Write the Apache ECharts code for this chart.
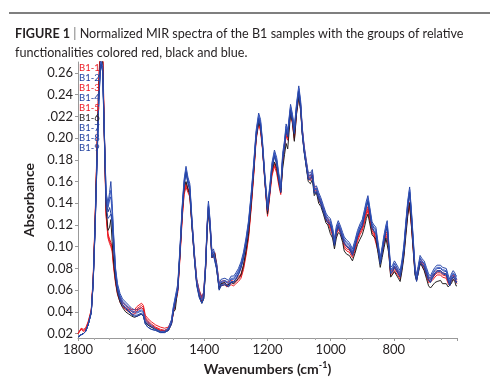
<!DOCTYPE html>
<html>
<head>
<meta charset="utf-8">
<script src="https://cdn.jsdelivr.net/npm/echarts@6/dist/echarts.min.js"></script>
<style>html,body{margin:0;padding:0;background:#fff}#c{width:500px;height:383px}</style>
</head>
<body>
<div id="c"></div>
<script>
// Wavenumbers (cm-1)
const wavenumbers = [
1800,1790,1783,1776,1768,1758,1752,1746,1740,1734,
1728,1722,1716,1711,1705,1700,1696,1692,1687,1681,
1675,1667,1659,1649,1639,1629,1621,1613,1607,1599,
1593,1587,1579,1568,1554,1539,1526,1514,1504,1498,
1492,1484,1477,1470,1464,1458,1452,1446,1439,1431,
1424,1416,1408,1402,1396,1391,1387,1382,1376,1371,
1367,1361,1353,1347,1341,1335,1329,1323,1315,1307,
1300,1292,1284,1276,1268,1260,1252,1244,1236,1228,
1222,1216,1208,1200,1193,1186,1178,1171,1164,1158,
1152,1146,1141,1136,1127,1121,1115,1108,1101,1095,
1090,1084,1078,1071,1064,1058,1052,1045,1038,1031,
1023,1015,1009,1001,994,988,982,976,969,962,
957,949,941,931,923,915,907,900,893,887,
882,876,869,863,857,850,843,837,831,825,
821,816,810,804,798,792,786,780,774,768,
762,756,750,744,738,733,728,723,717,711,
704,697,690,684,678,670,663,658,652,646,
640,634,628,623,618,612,607,603,600];

const b1_1 = [
.020,.025,.024,.025,.031,.042,.072,.125,.190,.255,
.295,.285,.200,.132,.112,.107,.104,.100,.084,.070,
.060,.053,.049,.046,.044,.042,.042,.045,.044,.048,
.046,.037,.034,.031,.028,.026,.025,.026,.032,.042,
.042,.062,.094,.130,.152,.159,.154,.150,.122,.092,
.070,.060,.054,.058,.084,.120,.137,.122,.094,.094,
.095,.084,.066,.068,.068,.069,.067,.066,.069,.068,
.070,.072,.075,.083,.096,.112,.138,.168,.202,.217,
.210,.194,.162,.132,.150,.169,.178,.172,.160,.152,
.180,.195,.206,.202,.227,.217,.202,.227,.242,.230,
.209,.192,.180,.166,.165,.169,.154,.154,.147,.143,
.136,.128,.126,.120,.114,.105,.115,.120,.116,.110,
.103,.100,.099,.094,.100,.109,.115,.119,.126,.133,
.137,.128,.117,.114,.113,.100,.089,.097,.106,.112,
.114,.099,.077,.079,.082,.083,.077,.074,.084,.097,
.117,.134,.141,.122,.099,.080,.073,.080,.089,.087,
.083,.077,.071,.070,.073,.076,.078,.077,.078,.076,
.076,.075,.070,.068,.072,.074,.073,.071,.070];

const b1_2 = [
.017,.019,.020,.022,.028,.040,.068,.118,.180,.240,
.275,.268,.200,.150,.140,.150,.160,.140,.110,.080,
.066,.057,.052,.049,.046,.043,.042,.042,.041,.044,
.042,.034,.031,.028,.025,.023,.023,.025,.033,.045,
.046,.066,.100,.138,.162,.174,.164,.158,.125,.093,
.070,.059,.053,.058,.086,.122,.142,.125,.096,.098,
.098,.085,.066,.070,.071,.071,.070,.069,.073,.073,
.076,.080,.086,.095,.108,.124,.148,.176,.207,.223,
.217,.198,.165,.139,.155,.177,.189,.182,.167,.156,
.186,.198,.213,.207,.231,.222,.210,.232,.248,.234,
.210,.193,.181,.168,.168,.171,.155,.156,.150,.145,
.138,.131,.128,.126,.118,.107,.119,.124,.119,.113,
.109,.106,.104,.098,.106,.115,.121,.125,.134,.142,
.147,.136,.123,.120,.118,.104,.090,.100,.111,.120,
.124,.104,.081,.083,.087,.087,.081,.078,.088,.102,
.123,.142,.155,.132,.105,.082,.074,.082,.092,.089,
.087,.081,.075,.073,.077,.081,.083,.082,.083,.081,
.081,.080,.074,.070,.075,.078,.076,.073,.073];

const b1_3 = [
.020,.0245,.023,.024,.030,.041,.070,.122,.187,.252,
.290,.280,.196,.130,.110,.105,.102,.098,.082,.068,
.058,.051,.047,.044,.042,.040,.040,.043,.042,.046,
.044,.035,.032,.029,.026,.024,.023,.024,.030,.040,
.040,.060,.092,.128,.150,.157,.152,.148,.120,.090,
.068,.058,.052,.056,.082,.118,.135,.120,.092,.092,
.093,.082,.064,.066,.066,.067,.065,.064,.067,.066,
.068,.070,.073,.081,.094,.110,.136,.166,.200,.215,
.208,.192,.160,.130,.148,.167,.176,.170,.158,.150,
.178,.193,.204,.200,.225,.215,.200,.225,.240,.228,
.207,.190,.178,.164,.163,.167,.152,.152,.145,.141,
.134,.126,.124,.118,.112,.103,.113,.118,.114,.108,
.101,.098,.097,.092,.098,.107,.113,.117,.124,.131,
.135,.126,.115,.112,.111,.098,.087,.095,.104,.110,
.112,.097,.075,.077,.080,.081,.075,.072,.082,.095,
.115,.132,.139,.120,.097,.078,.071,.078,.087,.085,
.081,.075,.069,.068,.071,.074,.076,.075,.076,.074,
.074,.073,.068,.066,.070,.072,.071,.069,.068];

const b1_4 = [
.017,.019,.020,.022,.028,.040,.067,.117,.179,.238,
.272,.265,.198,.146,.136,.143,.146,.132,.105,.077,
.063,.054,.049,.046,.043,.040,.039,.039,.038,.041,
.039,.031,.028,.026,.024,.022,.022,.024,.031,.043,
.043,.063,.097,.135,.159,.170,.161,.155,.122,.090,
.067,.056,.050,.055,.083,.119,.139,.122,.093,.095,
.095,.082,.063,.067,.068,.068,.067,.066,.070,.070,
.073,.077,.083,.092,.105,.121,.145,.173,.204,.220,
.214,.195,.162,.136,.152,.174,.186,.179,.164,.153,
.183,.195,.210,.204,.228,.219,.207,.229,.245,.231,
.207,.190,.178,.165,.165,.168,.152,.153,.147,.142,
.135,.128,.125,.123,.115,.104,.116,.121,.116,.110,
.106,.103,.101,.095,.103,.112,.118,.122,.131,.139,
.144,.133,.120,.117,.115,.101,.087,.097,.108,.117,
.121,.101,.078,.080,.084,.084,.078,.075,.085,.099,
.120,.139,.152,.129,.102,.079,.071,.079,.089,.086,
.084,.078,.072,.070,.074,.078,.080,.079,.080,.078,
.078,.077,.071,.067,.072,.075,.073,.070,.070];

const b1_5 = [
.020,.024,.022,.023,.029,.040,.068,.120,.184,.248,
.285,.275,.192,.128,.108,.103,.100,.096,.080,.066,
.056,.049,.045,.042,.040,.038,.038,.041,.040,.044,
.042,.033,.030,.027,.025,.023,.022,.023,.029,.039,
.039,.058,.090,.126,.148,.155,.150,.146,.118,.088,
.066,.056,.050,.054,.080,.116,.133,.118,.090,.090,
.091,.080,.062,.064,.064,.065,.063,.062,.065,.064,
.066,.068,.071,.079,.092,.108,.134,.164,.198,.213,
.206,.190,.158,.128,.146,.165,.174,.168,.156,.148,
.176,.191,.202,.198,.223,.213,.198,.223,.238,.226,
.205,.188,.176,.162,.161,.165,.150,.150,.143,.139,
.132,.124,.122,.116,.110,.101,.111,.116,.112,.106,
.099,.096,.095,.090,.096,.105,.111,.115,.122,.129,
.133,.124,.113,.110,.109,.096,.085,.093,.102,.108,
.110,.095,.073,.075,.078,.079,.073,.070,.080,.093,
.113,.130,.137,.118,.095,.076,.069,.076,.085,.083,
.079,.073,.067,.066,.069,.072,.074,.073,.074,.072,
.072,.071,.066,.064,.068,.070,.069,.067,.066];

const b1_6 = [
.017,.019,.020,.022,.028,.040,.068,.120,.184,.246,
.280,.270,.195,.135,.115,.118,.125,.105,.085,.068,
.057,.049,.044,.040,.038,.036,.035,.036,.035,.038,
.036,.030,.028,.026,.024,.022,.022,.023,.029,.040,
.042,.062,.095,.132,.155,.160,.153,.148,.118,.088,
.066,.055,.048,.052,.080,.115,.133,.118,.090,.092,
.094,.080,.061,.066,.065,.067,.064,.063,.067,.066,
.068,.071,.074,.083,.096,.112,.138,.168,.200,.214,
.210,.192,.160,.130,.150,.170,.178,.172,.160,.150,
.172,.185,.195,.190,.222,.215,.197,.222,.238,.225,
.204,.188,.175,.160,.158,.162,.147,.150,.140,.137,
.130,.122,.120,.112,.108,.098,.108,.113,.111,.104,
.096,.093,.092,.087,.094,.102,.107,.111,.118,.126,
.130,.121,.111,.109,.107,.094,.081,.090,.099,.108,
.109,.094,.072,.073,.077,.078,.071,.068,.078,.091,
.110,.128,.140,.118,.094,.074,.069,.075,.084,.082,
.078,.071,.064,.062,.063,.067,.068,.067,.069,.066,
.067,.066,.063,.062,.066,.070,.068,.064,.064];

const b1_7 = [
.017,.019,.020,.022,.028,.039,.066,.115,.176,.235,
.270,.262,.195,.142,.132,.136,.135,.126,.100,.074,
.060,.051,.046,.043,.040,.037,.036,.036,.035,.038,
.036,.029,.026,.024,.023,.021,.021,.023,.029,.041,
.041,.060,.094,.132,.156,.168,.158,.152,.119,.087,
.064,.053,.048,.052,.080,.116,.136,.119,.090,.092,
.092,.079,.060,.064,.065,.065,.064,.063,.067,.067,
.070,.074,.080,.089,.102,.118,.142,.170,.201,.217,
.211,.192,.159,.133,.149,.171,.183,.176,.161,.150,
.180,.192,.207,.201,.225,.216,.204,.226,.242,.228,
.204,.187,.175,.162,.162,.165,.149,.150,.144,.139,
.132,.125,.122,.120,.112,.101,.113,.118,.113,.107,
.103,.100,.098,.092,.100,.109,.115,.119,.128,.136,
.141,.130,.117,.114,.112,.098,.084,.094,.105,.114,
.118,.098,.075,.077,.081,.081,.075,.072,.082,.096,
.117,.136,.149,.126,.099,.076,.068,.076,.086,.083,
.081,.075,.069,.067,.071,.075,.077,.076,.077,.075,
.075,.074,.068,.064,.069,.072,.070,.067,.067];

const b1_8 = [
.017,.019,.020,.022,.028,.040,.067,.117,.179,.239,
.274,.266,.199,.148,.138,.146,.152,.136,.108,.078,
.064,.055,.050,.047,.044,.041,.040,.040,.039,.042,
.040,.032,.029,.027,.024,.022,.022,.024,.032,.044,
.044,.064,.098,.136,.160,.172,.162,.156,.123,.091,
.068,.057,.051,.056,.084,.120,.140,.123,.094,.096,
.096,.083,.064,.068,.069,.069,.068,.067,.071,.071,
.074,.078,.084,.093,.106,.122,.146,.174,.205,.221,
.215,.196,.163,.137,.153,.175,.187,.180,.165,.154,
.184,.196,.211,.205,.229,.220,.208,.230,.246,.232,
.208,.191,.179,.166,.166,.169,.153,.154,.148,.143,
.136,.129,.126,.124,.116,.105,.117,.122,.117,.111,
.107,.104,.102,.096,.104,.113,.119,.123,.132,.140,
.145,.134,.121,.118,.116,.102,.088,.098,.109,.118,
.122,.102,.079,.081,.085,.085,.079,.076,.086,.100,
.121,.140,.153,.130,.103,.080,.072,.080,.090,.087,
.085,.079,.073,.071,.075,.079,.081,.080,.081,.079,
.079,.078,.072,.068,.073,.076,.074,.071,.071];

const b1_9 = [
.017,.019,.020,.022,.028,.039,.066,.115,.176,.234,
.268,.261,.194,.138,.126,.128,.130,.122,.098,.074,
.061,.052,.047,.044,.041,.038,.037,.037,.036,.039,
.037,.029,.026,.024,.023,.021,.021,.023,.029,.041,
.041,.061,.095,.133,.157,.169,.159,.153,.120,.088,
.065,.054,.048,.053,.081,.117,.137,.120,.091,.093,
.093,.080,.061,.065,.066,.066,.065,.064,.068,.068,
.071,.075,.081,.090,.103,.119,.143,.171,.202,.218,
.212,.193,.160,.134,.150,.172,.184,.177,.162,.151,
.181,.193,.208,.202,.226,.217,.205,.227,.243,.229,
.205,.188,.176,.163,.163,.166,.150,.151,.145,.140,
.133,.126,.123,.121,.113,.102,.114,.119,.114,.108,
.104,.101,.099,.093,.101,.110,.116,.120,.129,.137,
.142,.131,.118,.115,.113,.099,.085,.095,.106,.115,
.119,.099,.076,.078,.082,.082,.076,.073,.083,.097,
.118,.137,.150,.127,.100,.077,.069,.077,.087,.084,
.082,.076,.070,.068,.072,.076,.078,.077,.078,.076,
.076,.075,.069,.065,.070,.073,.071,.068,.068];

const seriesNames = ['B1-1','B1-2','B1-3','B1-4','B1-5','B1-6','B1-7','B1-8','B1-9'];
const seriesValues = [b1_1,b1_2,b1_3,b1_4,b1_5,b1_6,b1_7,b1_8,b1_9];
const yTickValues = [0.02,0.04,0.06,0.08,0.10,0.12,0.14,0.16,0.18,0.20,0.22,0.24,0.26];
const yTickLabels = ['0.02','0.04','0.06','0.08','0.10','0.12','0.14','0.16','0.18','0.20','.022','0.24','0.26'];
const xTickValues = [1800,1600,1400,1200,1000,800];

const RED = '#ec1c24', BLUE = '#2242a0', BLACK = '#231f20';
const lineColors = [RED,'#2a48a8',RED,'#3552b4',RED,BLACK,'#1f3c98','#3d5cc0','#2645a6'];
const legendColors = [RED,BLUE,RED,BLUE,RED,BLACK,BLUE,BLUE,BLUE];

const chart = echarts.init(document.getElementById('c'), null, {renderer:'canvas'});
const FONT = 'Lato';
chart.setOption({
  animation: false,
  backgroundColor: '#fff',
  graphic: [{
    type: 'line', shape: {x1: 9, y1: 13, x2: 490, y2: 13},
    style: {stroke: '#555', lineWidth: 1.5}
  }],
  title: {
    left: 10, top: 20,
    text: '{b|FIGURE 1} {s|| }Normalized MIR spectra of the B1 samples with the groups of relative\nfunctionalities colored red, black and blue.',
    textStyle: {
      fontFamily: FONT, fontSize: 12.6, fontWeight: 'normal', color: '#231f20', lineHeight: 18.5,
      rich: {
        b: {fontFamily: FONT, fontSize: 12.6, fontWeight: 'bold', color: '#231f20', lineHeight: 18.5},
        s: {fontFamily: FONT, fontSize: 12.6, color: '#777', lineHeight: 18.5}
      }
    }
  },
  legend: {
    orient: 'vertical', left: 74, top: 63, itemWidth: 0, itemHeight: 8.8, itemGap: 0,
    icon: 'none', selectedMode: false, padding: 0, z: 10,
    textStyle: {fontFamily: FONT, fontSize: 9.5, lineHeight: 8.8, padding: 0},
    data: seriesNames.map((n, i) => ({name: n, textStyle: {color: legendColors[i]}}))
  },
  grid: {left: 78, right: 43, top: 62, bottom: 45, containLabel: false},
  xAxis: {
    type: 'value', inverse: true, min: 600, max: 1800, interval: 200,
    name: 'Wavenumbers (cm{sup|-1})', nameLocation: 'middle', nameGap: 23,
    nameTextStyle: {
      fontFamily: FONT, fontSize: 14, fontWeight: 'bold', color: '#231f20',
      rich: {sup: {fontFamily: FONT, fontSize: 9, fontWeight: 'bold', color: '#231f20', padding: [0, 0, 7, 0]}}
    },
    axisLine: {lineStyle: {color: '#999', width: 1}},
    axisTick: {show: true, length: 3, lineStyle: {color: '#999'}},
    minorTick: {show: true, splitNumber: 4, length: 2, lineStyle: {color: '#aaa'}},
    splitLine: {show: false},
    axisLabel: {
      customValues: xTickValues,
      fontFamily: FONT, fontSize: 13, color: '#231f20', margin: 5,
      formatter: v => String(v)
    }
  },
  yAxis: {
    type: 'value', min: 0.016, max: 0.27,
    name: 'Absorbance', nameLocation: 'middle', nameGap: 38, nameRotate: 90,
    nameTextStyle: {fontFamily: FONT, fontSize: 14, fontWeight: 'bold', color: '#231f20'},
    axisLine: {show: true, lineStyle: {color: '#999', width: 1}},
    axisTick: {show: true, customValues: yTickValues, length: 3, lineStyle: {color: '#999'}},
    minorTick: {show: false},
    splitLine: {show: false},
    axisLabel: {
      customValues: yTickValues,
      fontFamily: FONT, fontSize: 13, color: '#231f20', margin: 5,
      formatter: v => {
        const i = yTickValues.findIndex(t => Math.abs(t - v) < 1e-6);
        return i >= 0 ? yTickLabels[i] : '';
      }
    }
  },
  series: seriesNames.map((n, i) => ({
    name: n, type: 'line', showSymbol: false, symbol: 'none', clip: true, z: 2,
    color: lineColors[i],
    lineStyle: {width: 1, color: lineColors[i]},
    emphasis: {disabled: true},
    data: wavenumbers.map((w, j) => [w, seriesValues[i][j]])
  }))
});
</script>
</body>
</html>
